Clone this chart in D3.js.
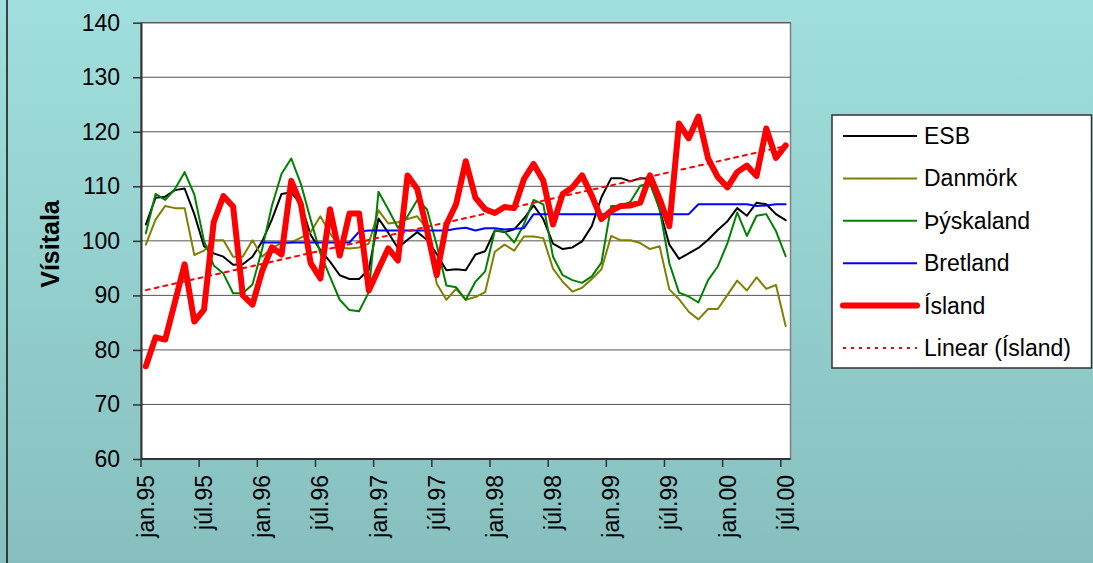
<!DOCTYPE html>
<html lang="is">
<head>
<meta charset="UTF-8">
<title>Vísitala</title>
<script src="https://cdn.jsdelivr.net/npm/d3@7"></script>
<style>
  body { margin: 0; padding: 0; overflow: hidden; background: #fff; }
  svg { display: block; font-family: "Liberation Sans", Arial, sans-serif; }
  .grid line { stroke: #555; stroke-width: 1; }
  .series { fill: none; stroke-linejoin: round; stroke-linecap: round; }
</style>
</head>
<body>
<svg id="chart" width="1093" height="563"></svg>
<script>
// --- data: monthly index, jan.95 - júl.00 ---
const monthNames = ["jan", "feb", "mar", "apr", "maí", "jún", "júl", "ágú", "sep", "okt", "nóv", "des"];
const years = ["95", "96", "97", "98", "99", "00"];
const nMonths = 67;

const esb = [103.0, 107.9, 108.1, 109.3, 109.6, 104.9, 99.0, 97.7, 97.1, 95.6, 95.7, 97.1,
  99.9, 103.9, 108.6, 108.9, 106.7, 101.1, 98.3, 96.2, 93.7, 93.0, 93.0, 94.7,
  104.1, 101.5, 98.7, 100.2, 101.6, 100.2, 97.6, 94.6, 94.8, 94.6, 97.5, 98.1,
  101.9, 101.6, 102.1, 104.1, 106.5, 104.0, 99.5, 98.5, 98.8, 99.9, 102.7, 108.0,
  111.5, 111.5, 110.9, 111.5, 111.4, 105.8, 99.3, 96.7, 97.7, 98.7, 100.2, 102.0,
  103.6, 106.0, 104.6, 107.0, 106.7, 104.9, 103.8];

const danmork = [99.3, 103.9, 106.4, 106.0, 106.0, 97.4, 98.2, 100.1, 100.1, 97.1, 97.1, 100.1,
  97.1, 98.7, 99.6, 99.7, 100.6, 101.6, 104.5, 101.4, 98.8, 98.6, 98.8, 99.5,
  105.6, 103.2, 103.4, 104.0, 104.5, 102.2, 92.2, 89.2, 91.2, 89.2, 89.7, 90.6,
  98.0, 99.3, 98.2, 100.8, 100.8, 100.5, 94.9, 92.5, 90.7, 91.4, 93.0, 94.8,
  100.9, 100.1, 100.1, 99.6, 98.5, 99.0, 91.1, 89.3, 87.0, 85.6, 87.5, 87.5,
  90.1, 92.7, 90.9, 93.3, 91.2, 91.9, 84.4];

const thyskaland = [101.4, 108.6, 107.5, 109.5, 112.6, 108.5, 100.0, 95.5, 94.0, 90.4, 90.4, 92.0,
  98.5, 106.4, 112.3, 115.1, 110.4, 103.9, 97.7, 93.4, 89.2, 87.3, 87.1, 90.6,
  109.0, 105.8, 102.4, 104.5, 107.5, 105.8, 99.3, 91.8, 91.5, 89.2, 92.5, 94.4,
  101.9, 101.7, 99.7, 103.0, 107.5, 106.7, 97.1, 93.7, 92.8, 92.3, 93.5, 96.0,
  106.4, 106.4, 107.2, 110.1, 110.5, 105.8, 95.9, 90.5, 89.8, 88.7, 92.8, 95.3,
  99.6, 105.2, 100.9, 104.6, 104.9, 101.8, 97.2];

// Bretland starts in jan.96
const bretland = [null, null, null, null, null, null, null, null, null, null, null, null,
  99.7, 99.7, 99.7, 99.7, 99.7, 99.7, 99.7, 99.7, 99.7, 99.7, 101.7, 101.9,
  101.9, 101.9, 101.9, 101.9, 101.9, 101.9, 101.9, 101.9, 102.2, 102.4, 101.9, 102.3,
  102.3, 102.1, 102.2, 102.3, 104.9, 104.9, 104.9, 104.9, 104.9, 104.9, 104.9, 104.9,
  104.9, 104.9, 104.9, 104.9, 104.9, 104.9, 104.9, 104.9, 104.9, 106.7, 106.7, 106.7,
  106.7, 106.7, 106.7, 106.4, 106.5, 106.7, 106.7];

const island = [77.0, 82.3, 81.9, 88.8, 95.7, 85.2, 87.4, 103.4, 108.2, 106.3, 90.0, 88.3,
  94.5, 98.8, 97.5, 111.0, 106.7, 95.9, 93.1, 105.8, 97.3, 105.0, 105.0, 90.9,
  94.8, 98.6, 96.4, 112.0, 109.5, 102.0, 93.7, 103.0, 106.7, 114.6, 107.9, 105.8,
  105.1, 106.2, 106.0, 111.3, 114.1, 111.0, 103.0, 108.6, 109.8, 112.0, 108.3, 104.0,
  105.5, 106.4, 106.5, 107.0, 112.0, 107.7, 102.7, 121.5, 118.8, 122.8, 115.1, 111.7,
  109.8, 112.6, 113.8, 111.9, 120.6, 115.2, 117.5];

const yTicks = [60, 70, 80, 90, 100, 110, 120, 130, 140];

// category labels like "jan.95"
const categories = [];
for (let i = 0; i < nMonths; i++) {
  categories.push(monthNames[i % 12] + "." + years[Math.floor(i / 12)]);
}

const seriesList = [
  { name: "ESB", values: esb, color: "#000000", width: 2 },
  { name: "Danmörk", values: danmork, color: "#808000", width: 2 },
  { name: "Þýskaland", values: thyskaland, color: "#008000", width: 2 },
  { name: "Bretland", values: bretland, color: "#0000ff", width: 2 },
  { name: "Ísland", values: island, color: "#ff0000", width: 6 }
];

// linear trendline (least squares) on Ísland, like Excel's
function linearFit(vals) {
  const n = vals.length;
  let sx = 0, sy = 0, sxy = 0, sxx = 0;
  vals.forEach((v, i) => { sx += i; sy += v; sxy += i * v; sxx += i * i; });
  const b = (n * sxy - sx * sy) / (n * sxx - sx * sx);
  const a = (sy - b * sx) / n;
  return vals.map((v, i) => a + b * i);
}
const trend = linearFit(island);

// --- layout ---
const W = 1093, H = 563;
const plot = { left: 141, right: 790.5, top: 22.7, bottom: 459 };

const svg = d3.select("#chart");

// background gradient
const defs = svg.append("defs");
const grad = defs.append("linearGradient").attr("id", "bg")
  .attr("x1", 0).attr("y1", 0).attr("x2", 0).attr("y2", 1);
grad.append("stop").attr("offset", "0%").attr("stop-color", "#a0dfdd");
grad.append("stop").attr("offset", "100%").attr("stop-color", "#86bfbe");

svg.append("rect").attr("width", W).attr("height", H).attr("fill", "url(#bg)");
svg.append("line").attr("x1", 7).attr("x2", 7).attr("y1", 0).attr("y2", H)
  .attr("stroke", "#111").attr("stroke-width", 1.5);

// scales
const x = d3.scaleBand().domain(categories).range([plot.left, plot.right]);
const xc = c => x(c) + x.bandwidth() / 2;
const y = d3.scaleLinear().domain([60, 140]).range([plot.bottom, plot.top]);

// plot area
svg.append("rect")
  .attr("x", plot.left).attr("y", plot.top)
  .attr("width", plot.right - plot.left).attr("height", plot.bottom - plot.top)
  .attr("fill", "#fff").attr("stroke", "#808080").attr("stroke-width", 1.5);

// gridlines
svg.append("g").attr("class", "grid")
  .selectAll("line").data(yTicks.filter(t => t > 60)).join("line")
  .attr("x1", plot.left).attr("x2", plot.right)
  .attr("y1", d => y(d)).attr("y2", d => y(d));

// y axis
const yAxis = svg.append("g")
  .attr("transform", `translate(${plot.left},0)`)
  .call(d3.axisLeft(y).tickValues(yTicks).tickSize(8).tickPadding(13).tickSizeOuter(0));
yAxis.select(".domain").attr("stroke", "#333").attr("stroke-width", 2);
yAxis.selectAll(".tick line").attr("stroke", "#333").attr("stroke-width", 1.5);
yAxis.selectAll(".tick text").attr("font-size", 23).attr("fill", "#000")
  .attr("font-family", "Liberation Sans, Arial, sans-serif");

// x axis: ticks at half-year boundaries, labels centred in their month
const labelled = categories.filter((c, i) => i % 6 === 0);
svg.append("line")
  .attr("x1", plot.left).attr("x2", plot.right)
  .attr("y1", plot.bottom).attr("y2", plot.bottom)
  .attr("stroke", "#333").attr("stroke-width", 2);
svg.append("g").selectAll("line").data(labelled).join("line")
  .attr("x1", d => x(d)).attr("x2", d => x(d))
  .attr("y1", plot.bottom).attr("y2", plot.bottom + 8)
  .attr("stroke", "#333").attr("stroke-width", 1.5);
svg.append("g").selectAll("text").data(labelled).join("text")
  .attr("transform", d => `translate(${xc(d)},${plot.bottom + 16}) rotate(-90)`)
  .attr("text-anchor", "end")
  .attr("dy", "0.35em")
  .attr("font-size", 23)
  .text(d => d);

// y title
svg.append("text")
  .attr("transform", "translate(50,244) rotate(-90)")
  .attr("text-anchor", "middle")
  .attr("dy", "0.35em")
  .attr("font-size", 25)
  .attr("font-weight", "bold")
  .text("Vísitala");

// lines
const line = d3.line()
  .defined(d => d != null)
  .x((d, i) => xc(categories[i]))
  .y(d => y(d));

const g = svg.append("g");
seriesList.forEach(s => {
  g.append("path").attr("class", "series")
    .attr("d", line(s.values))
    .attr("stroke", s.color)
    .attr("stroke-width", s.width);
});
g.append("path").attr("class", "series")
  .attr("d", line(trend))
  .attr("stroke", "#ff0000")
  .attr("stroke-width", 2)
  .attr("stroke-linecap", "butt")
  .attr("stroke-dasharray", "4,5");

// legend
const legend = svg.append("g");
legend.append("rect")
  .attr("x", 832).attr("y", 115).attr("width", 259.5).attr("height", 253)
  .attr("fill", "#fff").attr("stroke", "#333").attr("stroke-width", 1.5);

const legendItems = seriesList.map(s => ({ name: s.name, color: s.color, width: s.width, dash: null }))
  .concat([{ name: "Linear (Ísland)", color: "#ff0000", width: 2, dash: "3,5" }]);

legendItems.forEach((d, k) => {
  const ly = 136 + k * 42.4;
  legend.append("line")
    .attr("x1", 843).attr("x2", 917).attr("y1", ly).attr("y2", ly)
    .attr("stroke", d.color).attr("stroke-width", d.width)
    .attr("stroke-linecap", d.width > 3 ? "round" : "butt")
    .attr("stroke-dasharray", d.dash);
  legend.append("text")
    .attr("x", 924).attr("y", ly).attr("dy", "0.35em")
    .attr("font-size", 23)
    .text(d.name);
});
</script>
</body>
</html>
